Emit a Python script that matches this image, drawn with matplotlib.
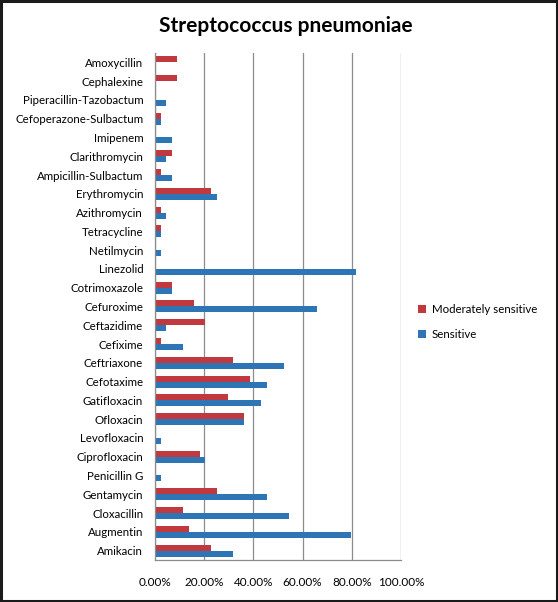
import numpy as np
import matplotlib.pyplot as plt
from matplotlib.patches import Rectangle

drugs = ["Amikacin", "Augmentin", "Cloxacillin", "Gentamycin", "Penicillin G",
         "Ciprofloxacin", "Levofloxacin", "Ofloxacin", "Gatifloxacin", "Cefotaxime",
         "Ceftriaxone", "Cefixime", "Ceftazidime", "Cefuroxime", "Cotrimoxazole",
         "Linezolid", "Netilmycin", "Tetracycline", "Azithromycin", "Erythromycin",
         "Ampicillin-Sulbactum", "Clarithromycin", "Imipenem", "Cefoperazone-Sulbactum",
         "Piperacillin-Tazobactum", "Cephalexine", "Amoxycillin"]

moderate = [22.73, 13.64, 11.36, 25.00, 0, 18.18, 0, 36.36, 29.55, 38.64,
            31.82, 2.27, 20.45, 15.91, 6.82, 0, 0, 2.27, 2.27, 22.73,
            2.27, 6.82, 0, 2.27, 0, 9.09, 9.09]

sensitive = [31.82, 79.55, 54.55, 45.45, 2.27, 20.45, 2.27, 36.36, 43.18, 45.45,
             52.27, 11.36, 4.55, 65.91, 6.82, 81.82, 2.27, 2.27, 4.55, 25.00,
             6.82, 4.55, 6.82, 2.27, 4.55, 0, 0]

xticks = [0, 20, 40, 60, 80, 100]

red = "#C0393F"
blue = "#2E75B6"

plt.rcParams['font.family'] = ['Lato', 'DejaVu Sans']

fig = plt.figure(figsize=(5.58, 6.02), dpi=100)
ax = fig.add_axes([0.2778, 0.0698, 0.4408, 0.8422])

y = np.arange(len(drugs))
h = 0.32
ax.barh(y + h / 2, moderate, height=h, color=red, label="Moderately sensitive")
ax.barh(y - h / 2, sensitive, height=h, color=blue, label="Sensitive")

ax.set_xlim(0, 100)
ax.set_ylim(-0.5, len(drugs) - 0.5)
ax.set_yticks(y)
ax.set_yticklabels(drugs, fontsize=8.3)
ax.set_xticks(xticks)
ax.set_xticklabels(["%.2f%%" % v for v in xticks], fontsize=8.5)
ax.tick_params(axis='both', length=0)
ax.tick_params(axis='x', pad=12)
ax.tick_params(axis='y', pad=8.5)

ax.grid(axis='x', color='#8c8c8c', linewidth=0.9)
ax.set_axisbelow(True)
for s in ['top', 'right']:
    ax.spines[s].set_visible(False)
for s in ['left', 'bottom']:
    ax.spines[s].set_color('#8c8c8c')
    ax.spines[s].set_linewidth(0.9)

fig.text(0.513, 0.956, "Streptococcus pneumoniae", ha='center', va='center',
         fontsize=15, fontweight='bold')

fig.legend(loc='upper left', bbox_to_anchor=(0.73, 0.512), frameon=False,
           fontsize=8.3, handlelength=0.7, handleheight=0.7, handletextpad=0.5,
           labelspacing=1.2)

fig.patches.append(Rectangle((0.002, 0.002), 0.996, 0.996, transform=fig.transFigure,
                             fill=False, edgecolor='#1a1a1a', linewidth=2.2))

fig.savefig("out.png", dpi=100)
